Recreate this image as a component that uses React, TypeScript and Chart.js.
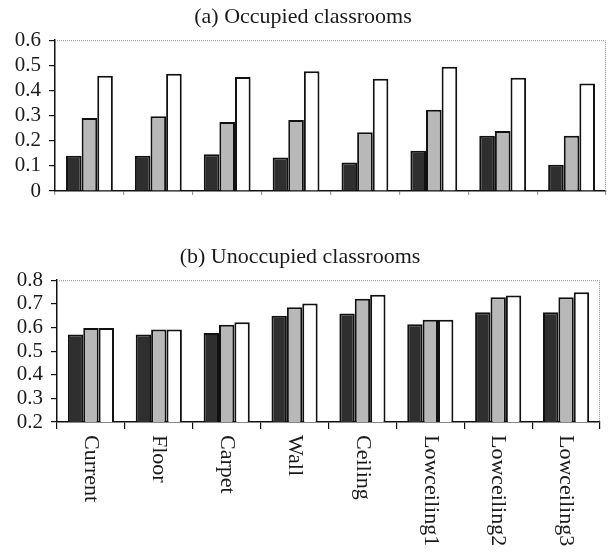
import React, { useEffect, useRef } from "react";
import { Chart, registerables } from "chart.js";

Chart.register(...registerables);

const categories = ["Current", "Floor", "Carpet", "Wall", "Ceiling", "Lowceiling1", "Lowceiling2", "Lowceiling3"];

const occupiedDark = [0.14, 0.14, 0.146, 0.133, 0.113, 0.16, 0.22, 0.104];
const occupiedGray = [0.29, 0.297, 0.275, 0.282, 0.234, 0.323, 0.239, 0.22];
const occupiedWhite = [0.459, 0.467, 0.454, 0.476, 0.447, 0.494, 0.451, 0.428];

const unoccupiedDark = [0.57, 0.57, 0.577, 0.65, 0.659, 0.614, 0.664, 0.664];
const unoccupiedGray = [0.598, 0.591, 0.612, 0.686, 0.721, 0.633, 0.728, 0.728];
const unoccupiedWhite = [0.598, 0.591, 0.622, 0.701, 0.738, 0.633, 0.735, 0.749];

const occupiedTicks = [0, 0.1, 0.2, 0.3, 0.4, 0.5, 0.6];
const unoccupiedTicks = [0.2, 0.3, 0.4, 0.5, 0.6, 0.7, 0.8];

const seriesNames = ["Series 1", "Series 2", "Series 3"];
const seriesColors = ["#2f2f2f", "#b8b8b8", "#ffffff"];

const FONT = "'Liberation Serif', 'DejaVu Serif', serif";

const framePlugin = {
  id: "frame",
  afterDraw(chart: any) {
    const { ctx, chartArea } = chart;
    ctx.save();
    ctx.strokeStyle = "#8a8a8a";
    ctx.lineWidth = 1;
    ctx.setLineDash([1, 1]);
    ctx.beginPath();
    ctx.moveTo(chartArea.left, chartArea.top + 0.5);
    ctx.lineTo(chartArea.right - 0.5, chartArea.top + 0.5);
    ctx.lineTo(chartArea.right - 0.5, chartArea.bottom);
    ctx.stroke();
    ctx.restore();
  },
};

const rotatedLabelsPlugin = {
  id: "rotatedLabels",
  afterDraw(chart: any) {
    const opts = chart.options.plugins.rotatedLabels;
    if (!opts || !opts.enabled) return;
    const xScale = chart.scales.x;
    const { ctx } = chart;
    ctx.save();
    ctx.fillStyle = "#1a1a1a";
    ctx.font = `22px ${FONT}`;
    ctx.textAlign = "left";
    ctx.textBaseline = "middle";
    const labels = chart.data.labels as string[];
    labels.forEach((lab, i) => {
      const x = xScale.getPixelForValue(i);
      const y = xScale.top + 13;
      ctx.save();
      ctx.translate(x, y);
      ctx.rotate(Math.PI / 2);
      ctx.fillText(lab, 0, 0);
      ctx.restore();
    });
    ctx.restore();
  },
};

function makeConfig(
  title: string,
  dark: number[],
  gray: number[],
  white: number[],
  yTicks: number[],
  opts: { titleTop: number; yWidth: number; xHeight: number; padRight: number; labels: boolean; xTickColor: string; xTickLen: number }
): any {
  const vals = [dark, gray, white];
  return {
    type: "bar",
    data: {
      labels: categories,
      datasets: vals.map((v, i) => ({
        label: seriesNames[i],
        data: v,
        backgroundColor: seriesColors[i],
        borderColor: "#111111",
        borderWidth: 2,
        categoryPercentage: 0.68,
        barPercentage: 1.0,
      })),
    },
    options: {
      animation: false,
      responsive: false,
      maintainAspectRatio: false,
      layout: { padding: { left: 0, right: opts.padRight, top: 0, bottom: 0 } },
      plugins: {
        legend: { display: false },
        tooltip: { enabled: false },
        title: {
          display: true,
          text: title,
          color: "#1a1a1a",
          font: { family: FONT, size: 22, weight: "normal", lineHeight: 1.1 },
          padding: { top: opts.titleTop, bottom: 11 },
        },
        rotatedLabels: { enabled: opts.labels },
      },
      scales: {
        x: {
          type: "category",
          offset: true,
          grid: {
            display: true,
            offset: true,
            drawOnChartArea: false,
            drawTicks: true,
            tickLength: opts.xTickLen,
            color: opts.xTickColor,
            lineWidth: 1.2,
          },
          border: { display: true, color: "#111111", width: 1.5 },
          ticks: { display: false },
          afterFit: (scale: any) => {
            scale.height = opts.xHeight;
          },
        },
        y: {
          min: yTicks[0],
          max: yTicks[yTicks.length - 1],
          afterBuildTicks: (scale: any) => {
            scale.ticks = yTicks.map((v) => ({ value: v }));
          },
          ticks: {
            autoSkip: false,
            color: "#1a1a1a",
            padding: 8,
            font: { family: FONT, size: 21, lineHeight: 1.0 },
            callback: (v: any) => String(Math.round(Number(v) * 10) / 10),
          },
          grid: {
            display: true,
            drawOnChartArea: false,
            drawTicks: true,
            tickLength: 6,
            color: "#111111",
            lineWidth: 1.2,
          },
          border: { display: true, color: "#111111", width: 1.5 },
          afterFit: (scale: any) => {
            scale.width = opts.yWidth;
          },
        },
      },
    },
    plugins: [framePlugin, rotatedLabelsPlugin],
  };
}

export default function App() {
  const topRef = useRef<HTMLCanvasElement>(null);
  const botRef = useRef<HTMLCanvasElement>(null);

  useEffect(() => {
    const c1 = new Chart(
      topRef.current as HTMLCanvasElement,
      makeConfig("(a) Occupied classrooms", occupiedDark, occupiedGray, occupiedWhite, occupiedTicks, {
        titleTop: 5,
        yWidth: 55,
        xHeight: 41,
        padRight: 2,
        labels: false,
        xTickColor: "#9a9a9a",
        xTickLen: 4,
      })
    );
    const c2 = new Chart(
      botRef.current as HTMLCanvasElement,
      makeConfig("(b) Unoccupied classrooms", unoccupiedDark, unoccupiedGray, unoccupiedWhite, unoccupiedTicks, {
        titleTop: 13,
        yWidth: 57,
        xHeight: 134,
        padRight: 8,
        labels: true,
        xTickColor: "#111111",
        xTickLen: 7,
      })
    );
    return () => {
      c1.destroy();
      c2.destroy();
    };
  }, []);

  return (
    <div style={{ position: "absolute", left: 0, top: 0, width: 608, height: 556, background: "#ffffff" }}>
      <canvas ref={topRef} width={608} height={232} style={{ position: "absolute", left: 0, top: 0, width: 608, height: 232 }} />
      <canvas ref={botRef} width={608} height={324} style={{ position: "absolute", left: 0, top: 232, width: 608, height: 324 }} />
    </div>
  );
}
